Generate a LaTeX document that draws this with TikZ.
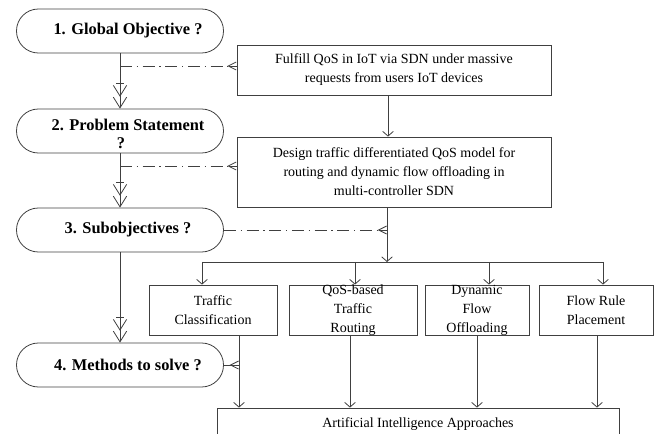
\documentclass[tikz,border=0pt]{standalone}
\usepackage{fontspec}
\setmainfont{Liberation Serif}
\usetikzlibrary{arrows.meta,decorations.markings}
\definecolor{lc}{gray}{0.25}
\begin{document}
\begin{tikzpicture}[x=0.75pt,y=-0.75pt,
  line width=0.6pt, draw=lc,
  every node/.style={font=\fontsize{10.5}{14.3}\selectfont, align=center},
  pill/.style={draw=lc, rounded corners=16.4pt, minimum width=155.25pt, minimum height=33pt, inner sep=0pt},
  pilltext/.style={font=\fontsize{12.3}{13.5}\selectfont\bfseries, inner sep=0pt},
  box/.style={draw=lc, inner xsep=0pt, inner ysep=-10pt, minimum height=37.5pt},
  arr/.style={-{Straight Barb[length=3.5pt,width=8pt]}},
  dbl/.style={-{Straight Barb[length=8pt,width=10pt,sep=0pt] Straight Barb[length=8pt,width=10pt]},
    postaction={decorate}, decoration={markings, mark=at position -18.75pt with {\draw[lc,line width=0.6pt,-] (0pt,-3pt) -- (0pt,3pt);}}},
  crow/.style={-{Straight Barb[reversed,length=6pt,width=6pt]},
    postaction={decorate}, decoration={markings, mark=at position -6pt with {\draw[lc,line width=0.6pt,solid,-] (0pt,0pt) -- (6pt,0pt);}}},
  dd/.style={dash pattern=on 9pt off 3.5pt on 1pt off 3.5pt},
]
\useasboundingbox (0,0) rectangle (659,434);

% pills
\node[pill] (p1) at (120,31) {};
\node[pill] (p2) at (120,131) {};
\node[pill] (p3) at (120,230) {};
\node[pill] (p4) at (120,365) {};
\node[pilltext] (t1) at (128,31) {1. Global Objective ?};
\node[pilltext] (t2) at (128,134) {2. Problem Statement\\\hspace*{-10.5pt}?};
\node[pilltext] (t3) at (128,230) {3. Subobjectives ?};
\node[pilltext] (t4) at (128,365) {4. Methods to solve ?};

% right boxes
\node[draw=lc, minimum width=235.5pt, minimum height=37.5pt, inner sep=0pt] (b1) at (394,70)
  {Fulfill QoS in IoT via SDN under massive\\requests from users IoT devices};
\node[draw=lc, minimum width=235.5pt, minimum height=52.5pt, inner sep=0pt] (b2) at (394,172)
  {Design traffic differentiated QoS model for\\routing and dynamic flow offloading in\\multi-controller SDN};

% subobjective boxes
\node[box, minimum width=96pt] (tc) at (213,310) {Traffic\\Classification};
\node[box, minimum width=96pt] (qr) at (353,310) {QoS-based\\Traffic\\Routing};
\node[box, minimum width=78pt] (df) at (477,310) {Dynamic\\Flow\\Offloading};
\node[box, minimum width=85.5pt] (fr) at (596,310) {Flow Rule\\Placement};

\node[draw=lc, minimum width=301.5pt, minimum height=24pt, inner sep=0pt] (ai) at (418,424)
  {Artificial Intelligence Approaches};

% helper coordinates
\coordinate (d1) at (120,66);
\coordinate (d2) at (120,166);
\coordinate (c1) at (388,0);
\coordinate (j) at (387,262);
\coordinate (h1) at (202,262);
\coordinate (h2) at (355,262);
\coordinate (h3) at (489,262);
\coordinate (h4) at (603,262);
\coordinate (e1) at (239,365);
\coordinate (e2) at (350,0);
\coordinate (e3) at (477,0);
\coordinate (e4) at (597,0);

% left flow
\draw[dbl] (p1.south) -- (p2.north);
\draw[dbl] (p2.south) -- (p3.north);
\draw[dbl] (p3.south) -- (p4.north);

% dash-dot links
\draw[dd,crow] (d1) -- (d1 -| b1.west);
\draw[dd,crow] (d2) -- (d2 -| b2.west);
\draw[dd,crow] (p3.east) -- (p3.east -| j);

% right flow
\draw[arr] (b1.south -| c1) -- (b2.north -| c1);
\draw[arr] (b2.south -| j) -- (j);
\draw (h1) -- (h4);
\draw[arr] (h1) -- (h1 |- tc.north);
\draw[arr] (h2) -- (h2 |- qr.north);
\draw[arr] (h3) -- (h3 |- df.north);
\draw[arr] (h4) -- (h4 |- fr.north);

% to AI
\draw[arr] (tc.south -| e1) -- (ai.north -| e1);
\draw[arr] (qr.south -| e2) -- (ai.north -| e2);
\draw[arr] (df.south -| e3) -- (ai.north -| e3);
\draw[arr] (fr.south -| e4) -- (ai.north -| e4);
\draw[crow] (p4.east) -- (p4.east -| e1);
\end{tikzpicture}
\end{document}
